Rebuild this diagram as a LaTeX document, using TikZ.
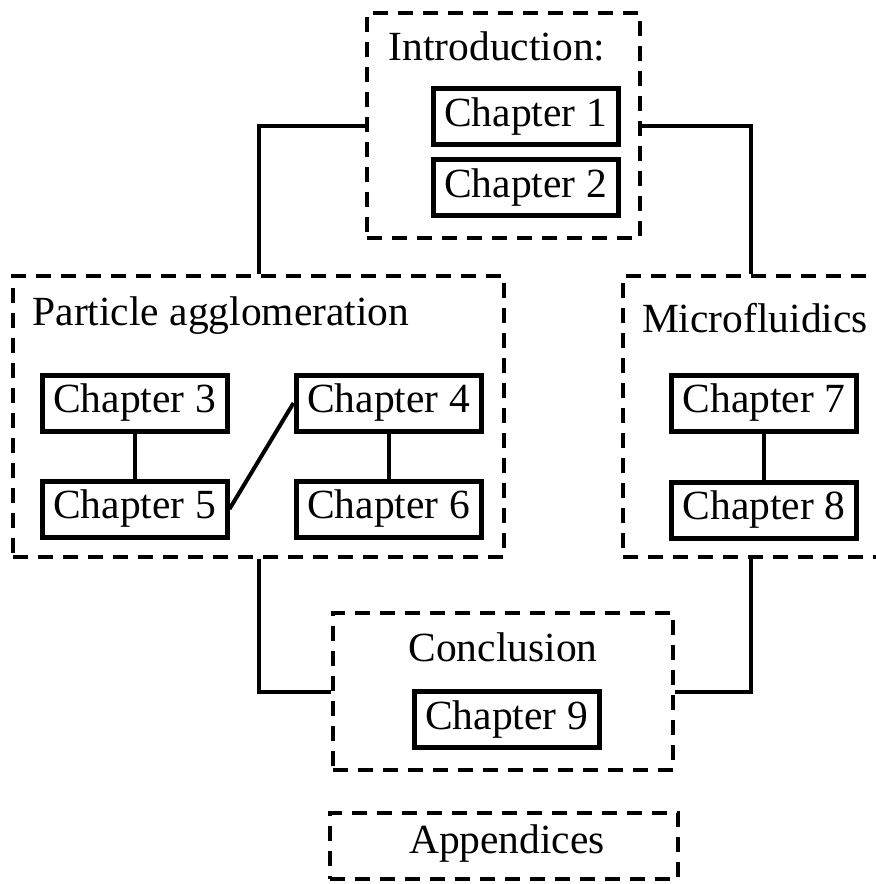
\documentclass[tikz,border=0pt]{standalone}
\usepackage{fontspec}
\setmainfont{Liberation Serif}
\begin{document}
\begin{tikzpicture}[x=0.5pt,y=-0.5pt,
  every node/.style={font=\fontsize{20.75pt}{25pt}\selectfont},
  chapbox/.style={draw,line width=2.5pt,rectangle,minimum width=92.5pt,minimum height=28pt,inner sep=0pt},
  groupbox/.style={draw,line width=2.4pt,dash pattern=on 7.5pt off 5pt,rectangle,inner sep=0pt},
  grouplabel/.style={anchor=base,inner sep=0pt},
  link/.style={line width=2pt}]
\useasboundingbox (0,0) rectangle (876,884);
% group boxes
\node[groupbox,minimum width=136.5pt,minimum height=112.5pt] (intro) at (503.5,125.5) {};
\node[groupbox,minimum width=245.5pt,minimum height=140.5pt] (pa) at (258.5,416.5) {};
\node[groupbox,minimum width=128pt,minimum height=140.5pt] (mf) at (751,416.5) {};
\node[groupbox,minimum width=170pt,minimum height=78.5pt] (concl) at (503,691.5) {};
\node[groupbox,minimum width=174pt,minimum height=33pt] (app) at (504,846) {};
% labels
\node[grouplabel] (introlbl) at (497,60) {Introduction:};
\node[grouplabel] (palbl) at (221,325) {Particle agglomeration};
\node[grouplabel] (mflbl) at (755,332) {Microfluidics};
\node[grouplabel] (concllbl) at (503,661) {Conclusion};
\node[grouplabel] (applbl) at (507,853) {Appendices};
% chapters
\node[chapbox] (c1) at (525.5,116.5) {Chapter 1};
\node[chapbox] (c2) at (525.5,187.5) {Chapter 2};
\node[chapbox] (c3) at (134.5,403) {Chapter 3};
\node[chapbox] (c4) at (388.5,403) {Chapter 4};
\node[chapbox] (c5) at (134.5,509) {Chapter 5};
\node[chapbox] (c6) at (388.5,509) {Chapter 6};
\node[chapbox] (c7) at (764,403) {Chapter 7};
\node[chapbox] (c8) at (764,510) {Chapter 8};
\node[chapbox] (c9) at (506.5,719.5) {Chapter 9};
% connectors
\draw[link] (c3) -- (c5);
\draw[link] (c4) -- (c6);
\draw[link] (c7) -- (c8);
\draw[link] (c5.east) -- (c4.west);
\draw[link] (intro.west) -| (pa.north);
\draw[link] (intro.east) -| (mf.north);
\draw[link] (pa.south) |- (concl.west);
\draw[link] (mf.south) |- (concl.east);
\end{tikzpicture}
\end{document}
